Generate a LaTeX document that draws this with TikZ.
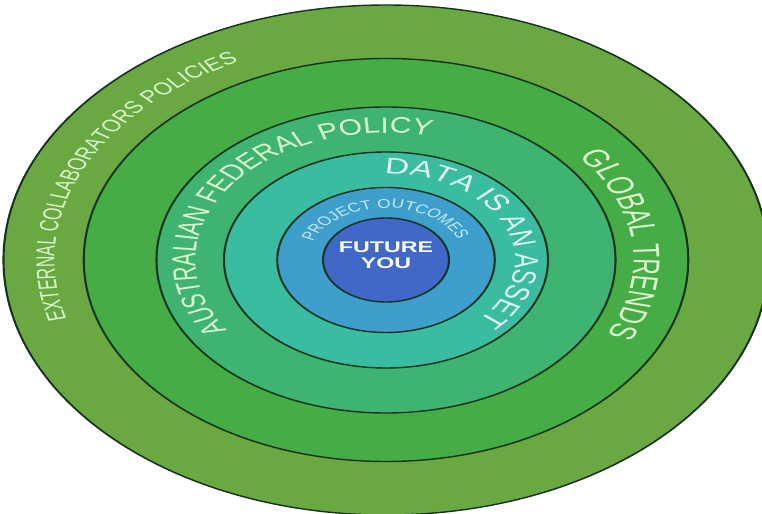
\documentclass[tikz,border=0pt]{standalone}
\usepackage{fontspec}
\setmainfont{Liberation Sans}
\newfontfamily\narrowfont[FakeStretch=0.9]{Liberation Sans}
\usepackage{tikz}
\usetikzlibrary{decorations.text}

\definecolor{ringline}{RGB}{22,52,30}
\definecolor{externalgreen}{RGB}{106,169,66}
\definecolor{globalgreen}{RGB}{70,172,70}
\definecolor{federalgreen}{RGB}{62,180,112}
\definecolor{datateal}{RGB}{58,188,160}
\definecolor{outcomeblue}{RGB}{62,158,204}
\definecolor{youblue}{RGB}{64,104,200}
\definecolor{lblgreen}{RGB}{218,246,204}
\definecolor{lblcyan}{RGB}{222,248,242}
\definecolor{lblblue}{RGB}{196,234,242}

\begin{document}
\begin{tikzpicture}[ring/.style={circle, draw=ringline, line width=0.8pt, inner sep=0pt},
    arctext/.style={decorate, decoration={text along path, text align=center, text={#1}}}]
\useasboundingbox (-7.72,-5.08) rectangle (7.52,5.2);
\begin{scope}[transform canvas={xscale=1.5}]
    \node[ring, fill=externalgreen, minimum size=10.2cm] (external) at (0,0) {};
    \node[ring, fill=globalgreen, minimum size=8.06cm] (global) at (external.center) {};
    \node[ring, fill=federalgreen, minimum size=6.12cm] (federal) at (external.center) {};
    \node[ring, fill=datateal, minimum size=4.32cm] (data) at (external.center) {};
    \node[ring, fill=outcomeblue, minimum size=2.9cm] (outcomes) at (external.center) {};
    \node[ring, fill=youblue, minimum size=1.68cm] (you) at (external.center) {};
    \node[font=\bfseries\fontsize{8.8}{9.2}\selectfont, text=white, align=center] (youtext) at (0,0.09) {FUTURE\\YOU};
    % labels along the rings
    \path[arctext={|\narrowfont\fontsize{10}{12}\selectfont\color{lblgreen}|EXTERNAL COLLABORATORS POLICIES}]
        (211:4.42) arc[start angle=211, end angle=101, radius=4.42];
    \path[arctext={|\narrowfont\fontsize{14.3}{16}\selectfont\color{lblgreen}|GLOBAL TRENDS}]
        (56:3.3) arc[start angle=56, end angle=-44, radius=3.3];
    \path[arctext={|\narrowfont\fontsize{12.7}{14}\selectfont\color{lblgreen}|AUSTRALIAN FEDERAL POLICY}]
        (225:2.54) arc[start angle=225, end angle=65, radius=2.54];
    \path[arctext={|\fontsize{12.7}{14}\selectfont\color{lblcyan}|DATA IS AN ASSET}]
        (103:1.72) arc[start angle=103, end angle=-57, radius=1.72];
    \path[arctext={|\narrowfont\fontsize{7.3}{8}\selectfont\color{lblblue}|PROJECT OUTCOMES}]
        (176:1.04) arc[start angle=176, end angle=6, radius=1.04];
\end{scope}
\end{tikzpicture}
\end{document}
